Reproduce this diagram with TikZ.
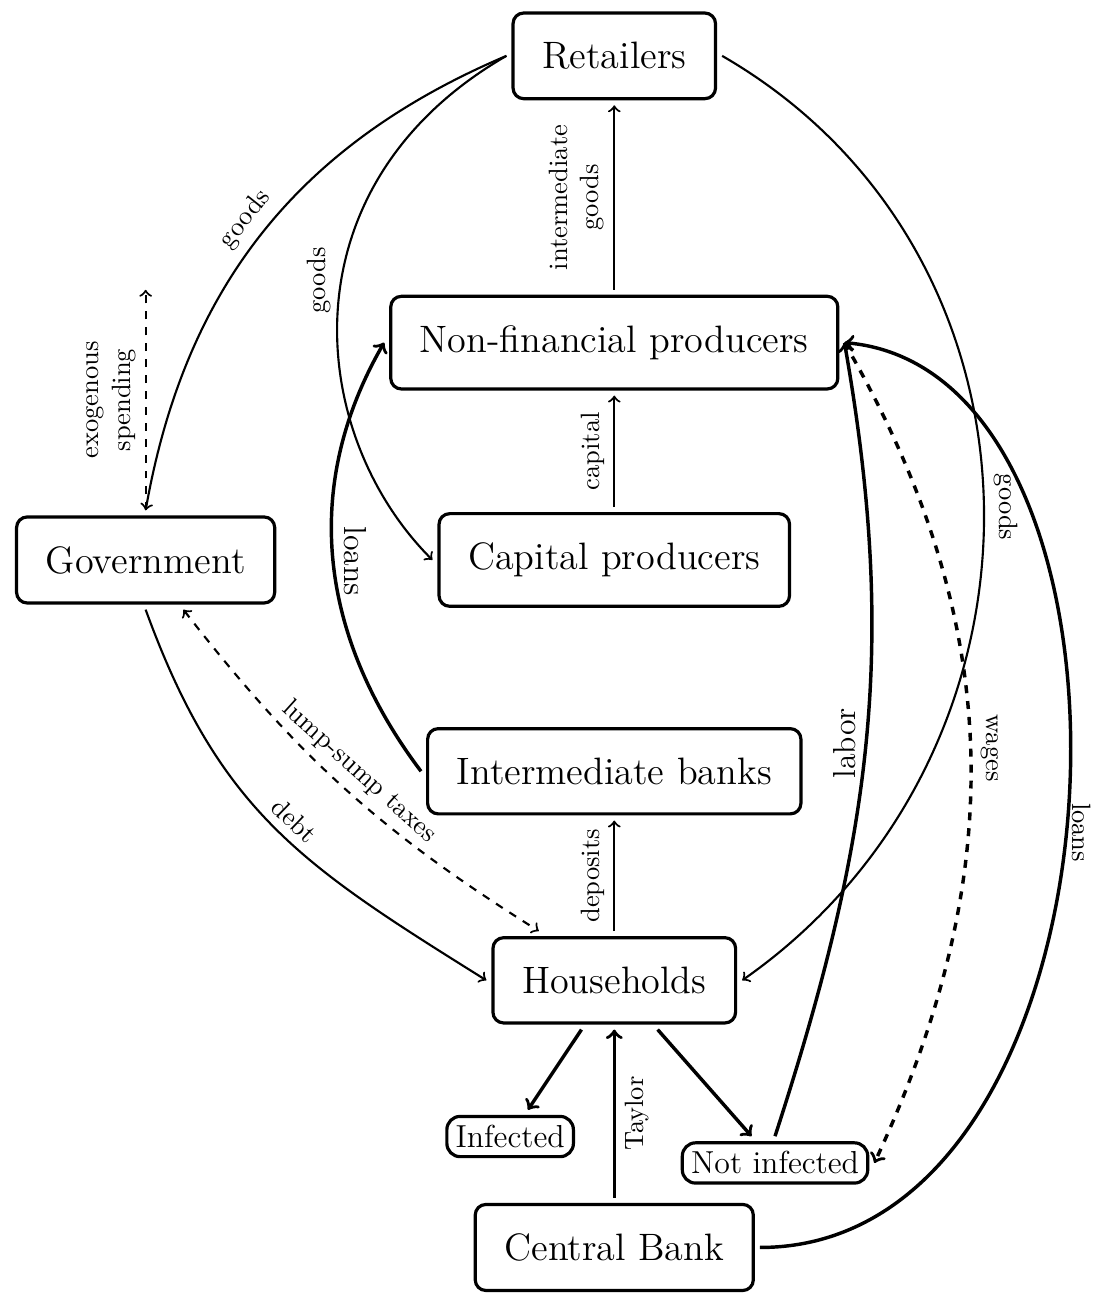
\documentclass[tikz,border=0pt]{standalone}
\usepackage{amsmath}
\usepackage{amssymb}
\usepackage{tikz}

\tikzset{
  sector/.style={draw, very thick, rounded corners, font=\Large, inner sep=11pt, outer sep=2.5pt},
  group/.style={draw, very thick, rounded corners=5pt, font=\large, inner sep=3.3pt, outer sep=2.5pt},
  flow/.style={->, thick},
  bigflow/.style={->, line width=1.3pt}
}

\begin{document}
\begin{tikzpicture}[node distance=2.8cm]
\useasboundingbox (-8.14,0.74) rectangle (6.45,-16.42);
\node[sector] (ret)                                                {Retailers};
\node[sector] (nfp)  [node distance=3.8cm, below of=ret]            {Non-financial producers};
\node[sector] (cap)  [node distance=2.88cm, below of=nfp]           {Capital producers};
\node[sector] (gov)  [node distance=6.21cm, left of=cap]            {Government};
\node[sector] (ib)   [below of=cap]                                 {Intermediate banks};
\node[sector] (hh)   [node distance=2.77cm, below of=ib]            {Households};
\node[sector] (cb)   [node distance=3.54cm, below of=hh]            {Central Bank};
\node[group]  (inf)  [node distance=2.07cm, below of=hh, xshift=-1.38cm] {Infected};
\node[group]  (ninf) [node distance=2.42cm, below of=hh, xshift=2.13cm]  {Not infected};
\coordinate[node distance=3.58cm, above of=gov] (exo);

% vertical flows
\path[flow] (nfp) edge node[rotate=90, anchor=south, align=center] {intermediate\\goods} (ret)
            (cap) edge node[rotate=90, anchor=south] {capital} (nfp)
            (hh)  edge node[rotate=90, anchor=south] {deposits} (ib);
\path[bigflow] (cb) edge node[rotate=90, anchor=north] {Taylor} (hh)
               (hh) edge (inf)
               (hh) edge (ninf);

% goods and debt
\path[flow] (ret.west)  edge[out=203, in=80]                  node[sloped, above, pos=0.5] {goods} (gov.north)
            (ret.west)  edge[out=210, in=135, out looseness=1.3, in looseness=0.9] node[rotate=90, anchor=south, pos=0.45] {goods} (cap.west)
            (ret.east)  edge[out=-30, in=35, looseness=1.1]   node[rotate=-90, anchor=south] {goods} (hh.east)
            (gov.south) edge[out=-70, in=148, looseness=1.1]  node[sloped, above, pos=0.52] {debt} (hh.west);
\path[flow, dashed] (gov.north) edge node[rotate=90, anchor=south, align=center] {exogenous\\spending} (exo)
            ([xshift=0.5cm]gov.south) edge[<->, bend right=10] node[sloped, above] {lump-sump taxes} ([xshift=-1cm]hh.north);

% loans, labor and wages
\path[bigflow] (ib.west)    edge[out=127, in=240] node[rotate=-90, anchor=south, font=\large] {loans} (nfp.west)
               (ninf.north) edge[out=72, in=-80]  node[rotate=90, anchor=south, font=\large] {labor} (nfp.east)
               (cb.east)    edge[out=0, in=-5, out looseness=1.07, in looseness=0.93] node[rotate=-90, anchor=south, pos=0.48, inner sep=1.5pt] {loans} (nfp.east);
\path[bigflow, dashed] (nfp.east) edge[out=-60, in=65] node[rotate=-90, anchor=south] {wages} (ninf.east);
\end{tikzpicture}
\end{document}
